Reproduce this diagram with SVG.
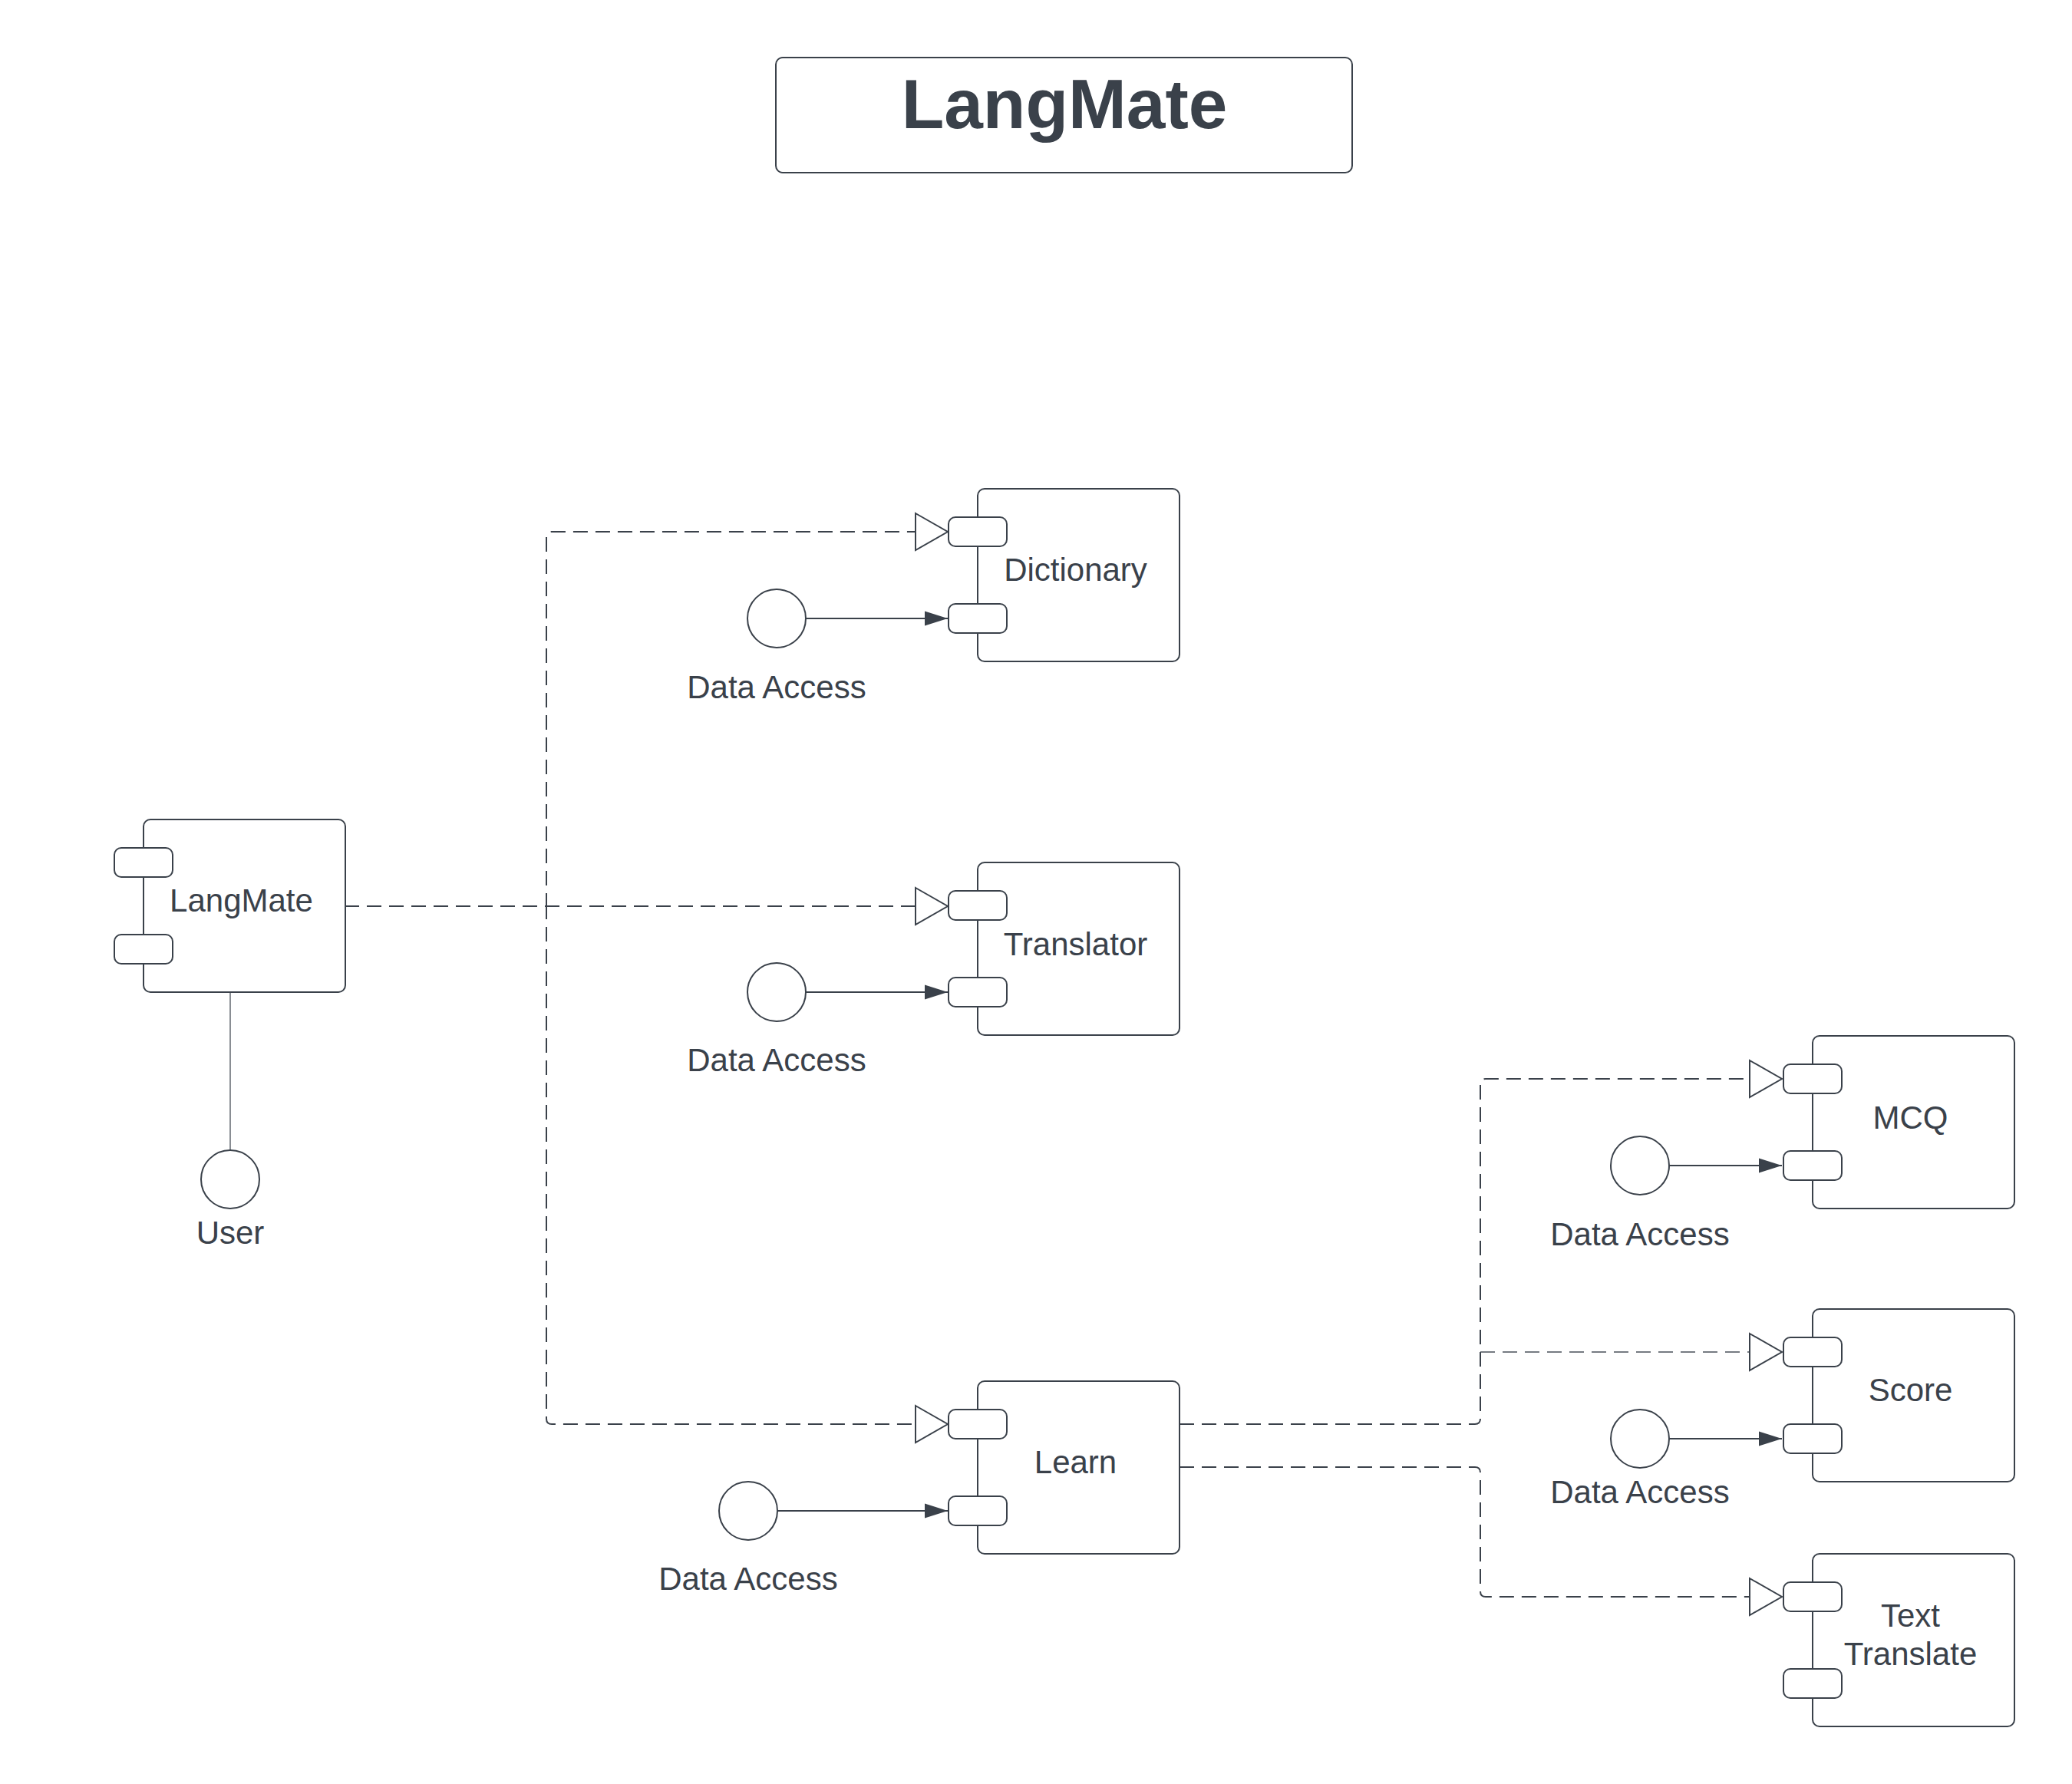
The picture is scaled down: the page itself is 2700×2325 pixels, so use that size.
<svg xmlns="http://www.w3.org/2000/svg" width="2700" height="2325" viewBox="0 0 2700 2325">
  <style>
    .box { fill: #ffffff; stroke: #3a414a; stroke-width: 2; }
    .port { fill: #ffffff; stroke: #3a414a; stroke-width: 2; }
    .iface { fill: #ffffff; stroke: #3a414a; stroke-width: 2; }
    .lbl { font-family: "Liberation Sans", Arial, sans-serif; font-size: 42px; fill: #3a414a; text-anchor: middle; }
    .title { font-family: "Liberation Sans", Arial, sans-serif; font-size: 91px; font-weight: bold; fill: #3a414a; text-anchor: middle; }
    .dep { fill: none; stroke: #3a414a; stroke-width: 2; stroke-dasharray: 19 10; }
    .dep-thin { fill: none; stroke: #4a5059; stroke-width: 1.3; stroke-dasharray: 19 10; }
    .req { fill: none; stroke: #3a414a; stroke-width: 2; }
    .assoc { fill: none; stroke: #3a414a; stroke-width: 1.2; }
  </style>
  <defs>
    <marker id="hollow" markerUnits="userSpaceOnUse" markerWidth="46" markerHeight="52" refX="43" refY="26" orient="auto">
      <path d="M1,2 L43,26 L1,50 Z" fill="#ffffff" stroke="#3a414a" stroke-width="2" stroke-dasharray="none"/>
    </marker>
    <marker id="filled" markerUnits="userSpaceOnUse" markerWidth="32" markerHeight="22" refX="31" refY="11" orient="auto">
      <path d="M1,1.5 L31,11 L1,20.5 Z" fill="#3a414a" stroke="none"/>
    </marker>
  </defs>

  <rect width="2700" height="2325" fill="#ffffff"/>

  <g id="title">
    <rect x="1011" y="75" width="751" height="150" rx="9" class="box"/>
    <text x="1387" y="167" class="title">LangMate</text>
  </g>

  <g id="connectors">
    <!-- LangMate to Dictionary / Translator / Learn -->
    <path class="dep" d="M449 1181 H712 V700 Q712 693 719 693 H1235" marker-end="url(#hollow)"/>
    <path class="dep" d="M449 1181 H1235" marker-end="url(#hollow)"/>
    <path class="dep" d="M449 1181 H712 V1849 Q712 1856 719 1856 H1235" marker-end="url(#hollow)"/>
    <!-- Learn to MCQ / Score / Text Translate -->
    <path class="dep" d="M1537 1856 H1922 Q1929 1856 1929 1849 V1413 Q1929 1406 1936 1406 H2322" marker-end="url(#hollow)"/>
    <path class="dep-thin" d="M1929 1762 H2322" marker-end="url(#hollow)"/>
    <path class="dep" d="M1537 1912 H1922 Q1929 1912 1929 1919 V2074 Q1929 2081 1936 2081 H2322" marker-end="url(#hollow)"/>
    <!-- Data Access interfaces -->
    <path class="req" d="M1050 806 H1235" marker-end="url(#filled)"/>
    <path class="req" d="M1050 1293 H1235" marker-end="url(#filled)"/>
    <path class="req" d="M1013 1969 H1235" marker-end="url(#filled)"/>
    <path class="req" d="M2175 1519 H2322" marker-end="url(#filled)"/>
    <path class="req" d="M2175 1875 H2322" marker-end="url(#filled)"/>
    <!-- LangMate to User -->
    <path class="assoc" d="M300 1293 V1499"/>
  </g>

  <g id="langmate">
    <rect x="187" y="1068" width="263" height="225" rx="9" class="box"/>
    <rect x="149" y="1105" width="76" height="38" rx="9" class="port"/>
    <rect x="149" y="1218" width="76" height="38" rx="9" class="port"/>
    <text x="314.5" y="1188" class="lbl">LangMate</text>
  </g>

  <g id="user">
    <circle cx="300" cy="1537" r="38" class="iface"/>
    <text x="300" y="1621" class="lbl">User</text>
  </g>

  <g id="dictionary">
    <rect x="1274" y="637" width="263" height="225" rx="9" class="box"/>
    <rect x="1236" y="674" width="76" height="38" rx="9" class="port"/>
    <rect x="1236" y="787" width="76" height="38" rx="9" class="port"/>
    <text x="1401.5" y="757" class="lbl">Dictionary</text>
  </g>
  <g id="dictionary-data">
    <circle cx="1012" cy="806" r="38" class="iface"/>
    <text x="1012" y="910" class="lbl">Data Access</text>
  </g>

  <g id="translator">
    <rect x="1274" y="1124" width="263" height="225" rx="9" class="box"/>
    <rect x="1236" y="1161" width="76" height="38" rx="9" class="port"/>
    <rect x="1236" y="1274" width="76" height="38" rx="9" class="port"/>
    <text x="1401.5" y="1245" class="lbl">Translator</text>
  </g>
  <g id="translator-data">
    <circle cx="1012" cy="1293" r="38" class="iface"/>
    <text x="1012" y="1396" class="lbl">Data Access</text>
  </g>

  <g id="learn">
    <rect x="1274" y="1800" width="263" height="225" rx="9" class="box"/>
    <rect x="1236" y="1837" width="76" height="38" rx="9" class="port"/>
    <rect x="1236" y="1950" width="76" height="38" rx="9" class="port"/>
    <text x="1401.5" y="1920" class="lbl">Learn</text>
  </g>
  <g id="learn-data">
    <circle cx="975" cy="1969" r="38" class="iface"/>
    <text x="975" y="2072" class="lbl">Data Access</text>
  </g>

  <g id="mcq">
    <rect x="2362" y="1350" width="263" height="225" rx="9" class="box"/>
    <rect x="2324" y="1387" width="76" height="38" rx="9" class="port"/>
    <rect x="2324" y="1500" width="76" height="38" rx="9" class="port"/>
    <text x="2489.5" y="1471" class="lbl">MCQ</text>
  </g>
  <g id="mcq-data">
    <circle cx="2137" cy="1519" r="38" class="iface"/>
    <text x="2137" y="1623" class="lbl">Data Access</text>
  </g>

  <g id="score">
    <rect x="2362" y="1706" width="263" height="225" rx="9" class="box"/>
    <rect x="2324" y="1743" width="76" height="38" rx="9" class="port"/>
    <rect x="2324" y="1856" width="76" height="38" rx="9" class="port"/>
    <text x="2489.5" y="1826" class="lbl">Score</text>
  </g>
  <g id="score-data">
    <circle cx="2137" cy="1875" r="38" class="iface"/>
    <text x="2137" y="1959" class="lbl">Data Access</text>
  </g>

  <g id="text-translate">
    <rect x="2362" y="2025" width="263" height="225" rx="9" class="box"/>
    <rect x="2324" y="2062" width="76" height="38" rx="9" class="port"/>
    <rect x="2324" y="2175" width="76" height="38" rx="9" class="port"/>
    <text x="2489.5" y="2120" class="lbl">Text</text>
    <text x="2489.5" y="2170" class="lbl">Translate</text>
  </g>
</svg>
